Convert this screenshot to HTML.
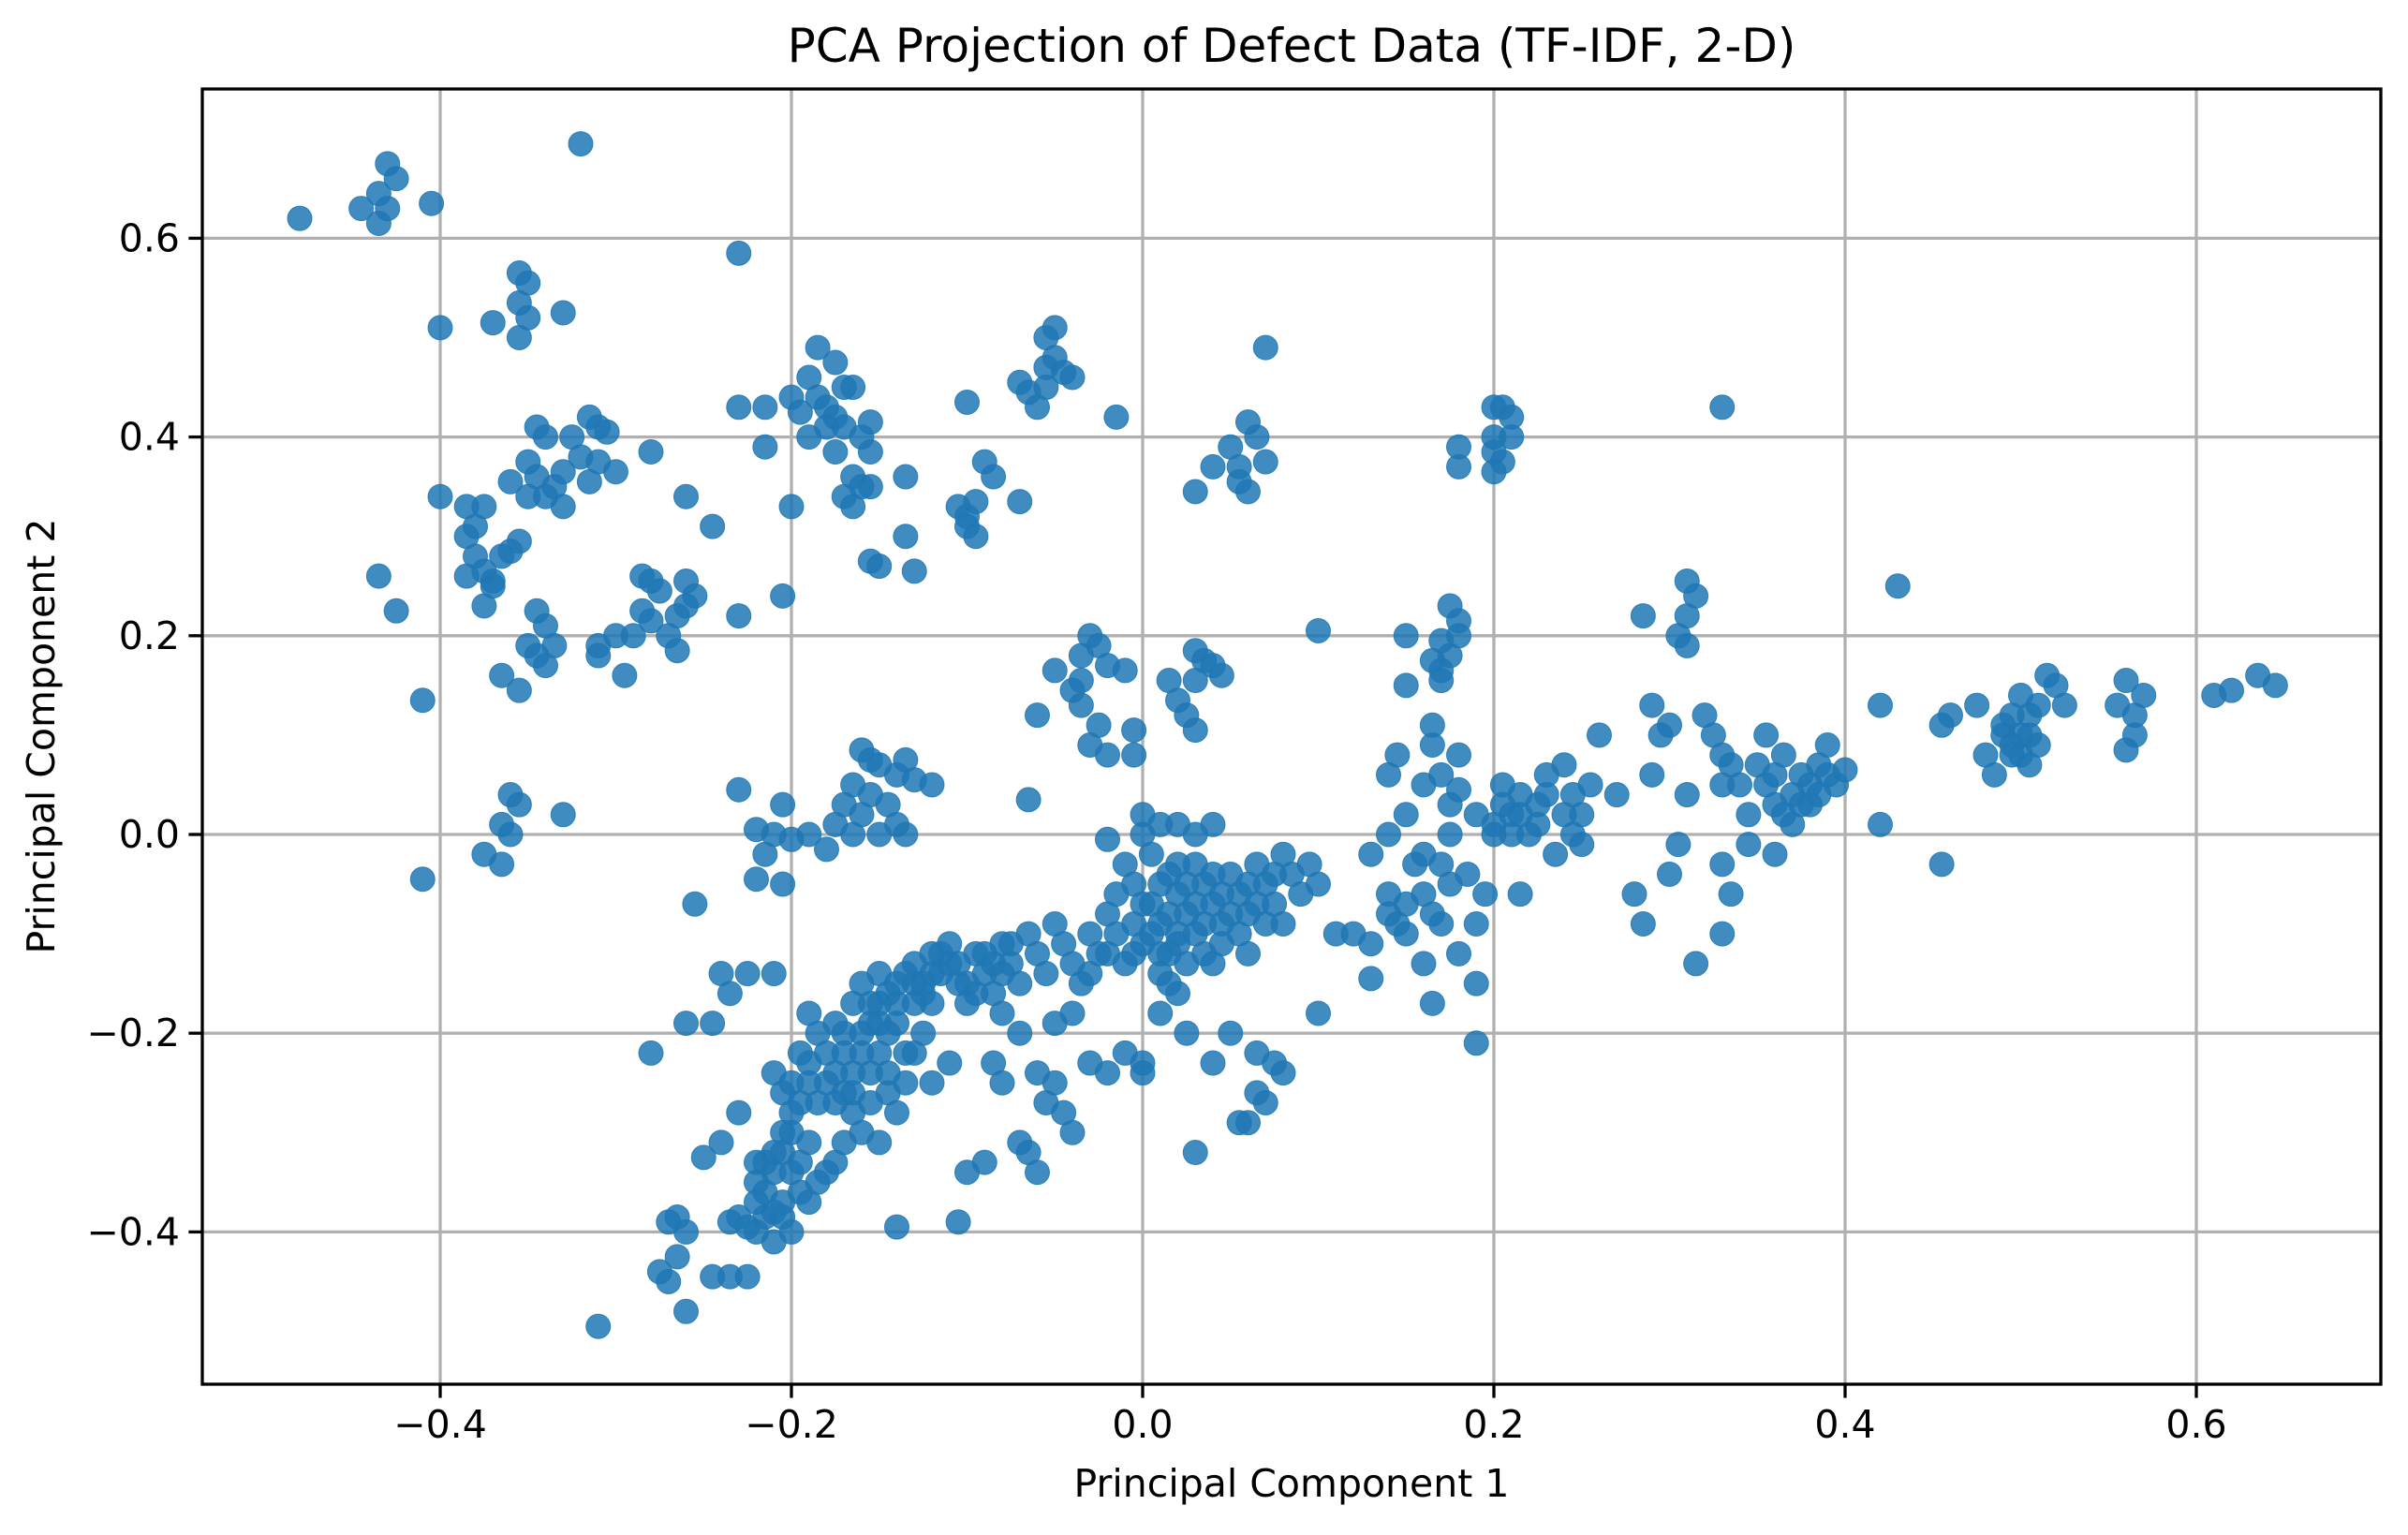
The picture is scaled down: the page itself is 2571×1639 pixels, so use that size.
<!DOCTYPE html>
<html><head><meta charset="utf-8"><style>
html,body{margin:0;padding:0;background:#fff;}
svg text{font-family:"DejaVu Sans","Liberation Sans",sans-serif;fill:#000;}
</style></head>
<body>
<svg id="chart" width="2571" height="1634" viewBox="0 0 2571 1634" xmlns="http://www.w3.org/2000/svg">
<rect x="0" y="0" width="2571" height="1634" fill="#fff"/>
<g id="grid"></g>
<g id="points"></g>
<rect x="216" y="95" width="2326" height="1383" fill="none" stroke="#000" stroke-width="3.3"/>
<g id="ticks"></g>
<text x="1379" y="66" font-size="50" text-anchor="middle">PCA Projection of Defect Data (TF-IDF, 2-D)</text>
<text x="1379" y="1598" font-size="41" text-anchor="middle">Principal Component 1</text>
<text x="0" y="0" font-size="41" text-anchor="middle" transform="translate(58,786) rotate(-90)">Principal Component 2</text>
</svg>
<script>
const xTicks = [-0.4,-0.2,0.0,0.2,0.4,0.6];
const yTicks = [-0.4,-0.2,0.0,0.2,0.4,0.6];
const xTickLabels = ["\u22120.4","\u22120.2","0.0","0.2","0.4","0.6"];
const yTickLabels = ["\u22120.4","\u22120.2","0.0","0.2","0.4","0.6"];
const ptsX = [];
const ptsY = [];
const raw = [
[-0.48,0.62],[-0.445,0.63],[-0.43,0.675],[-0.435,0.645],[-0.425,0.66],[-0.43,0.63],[-0.435,0.615],[-0.405,0.635],[-0.32,0.695],[-0.23,0.585],[-0.40,0.51],[-0.355,0.565],[-0.35,0.555],[-0.355,0.535],[-0.35,0.52],[-0.355,0.50],[-0.37,0.515],[-0.33,0.525],
[-0.4,0.34],[-0.385,0.33],[-0.375,0.33],[-0.38,0.31],[-0.36,0.355],[-0.345,0.41],[-0.34,0.4],[-0.35,0.375],[-0.345,0.36],[-0.335,0.35],[-0.34,0.34],[-0.35,0.34],[-0.33,0.365],[-0.325,0.4],[-0.32,0.38],[-0.315,0.42],[-0.31,0.41],[-0.305,0.405],[-0.31,0.375],[-0.315,0.355],[-0.33,0.33],[-0.3,0.365],[-0.28,0.385],[-0.26,0.34],[-0.245,0.31],[-0.23,0.43],[-0.215,0.43],[-0.215,0.39],
[-0.385,0.3],[-0.38,0.28],[-0.385,0.26],[-0.375,0.265],[-0.37,0.255],[-0.365,0.28],[-0.37,0.25],[-0.375,0.23],[-0.355,0.295],[-0.36,0.285],[-0.435,0.26],[-0.425,0.225],[-0.345,0.225],[-0.34,0.21],[-0.345,0.18],[-0.35,0.19],[-0.34,0.17],[-0.335,0.19],[-0.355,0.145],[-0.365,0.16],[-0.31,0.19],[-0.31,0.18],[-0.3,0.2],[-0.295,0.16],[-0.29,0.2],[-0.285,0.225],[-0.285,0.26],[-0.28,0.255],[-0.275,0.245],[-0.28,0.215],[-0.27,0.2],[-0.265,0.185],[-0.265,0.22],[-0.26,0.255],[-0.255,0.24],[-0.26,0.23],[-0.23,0.22],[-0.205,0.24],[-0.41,0.135],
[-0.36,0.04],[-0.355,0.03],[-0.365,0.01],[-0.36,0.0],[-0.375,-0.02],[-0.365,-0.03],[-0.33,0.02],[-0.41,-0.045],[-0.255,-0.07],[-0.23,0.045],
[-0.185,0.49],[-0.19,0.46],[-0.175,0.475],[-0.2,0.44],[-0.195,0.425],[-0.185,0.44],[-0.18,0.43],[-0.175,0.42],[-0.17,0.45],[-0.165,0.45],[-0.17,0.41],[-0.18,0.41],[-0.19,0.4],[-0.175,0.385],[-0.155,0.415],[-0.155,0.385],[-0.16,0.4],[-0.165,0.36],[-0.17,0.34],[-0.16,0.35],[-0.155,0.35],[-0.165,0.33],[-0.155,0.275],[-0.15,0.27],[-0.135,0.36],[-0.135,0.3],[-0.13,0.265],[-0.2,0.33],[-0.1,0.435],[-0.105,0.33],[-0.1,0.32],[-0.095,0.335],[-0.1,0.31],[-0.095,0.3],[-0.09,0.375],[-0.085,0.36],[-0.07,0.335],[-0.07,0.455],[-0.065,0.445],[-0.06,0.43],[-0.055,0.5],[-0.05,0.51],[-0.055,0.47],[-0.05,0.48],[-0.045,0.465],[-0.04,0.46],[-0.055,0.45],[-0.015,0.42],[0.07,0.49],
[0.05,0.39],[0.055,0.37],[0.06,0.415],[0.065,0.4],[0.07,0.375],[0.055,0.355],[0.06,0.345],[0.04,0.37],[0.03,0.345],
[0.2,0.43],[0.205,0.43],[0.21,0.42],[0.2,0.4],[0.21,0.4],[0.2,0.385],[0.205,0.375],[0.2,0.365],[0.18,0.39],[0.18,0.37],[0.33,0.43],
[0.175,0.23],[0.18,0.215],[0.18,0.2],[0.17,0.195],[0.175,0.18],[0.165,0.175],[0.17,0.165],[0.17,0.155],[0.15,0.2],[0.15,0.15],[0.1,0.205],[0.31,0.255],[0.315,0.24],[0.31,0.22],[0.305,0.2],[0.31,0.19],[0.285,0.22],[0.43,0.25],
[-0.03,0.2],[-0.025,0.19],[-0.035,0.18],[-0.02,0.17],[-0.01,0.165],[-0.035,0.155],[-0.04,0.145],[-0.05,0.165],[-0.06,0.12],[-0.035,0.13],[-0.025,0.11],[-0.03,0.09],[-0.02,0.08],[0.03,0.185],[0.035,0.175],[0.04,0.17],[0.045,0.16],[0.03,0.155],[0.015,0.155],[0.02,0.135],[0.025,0.12],[0.03,0.105],[-0.005,0.105],[-0.005,0.08],
[-0.16,0.085],[-0.155,0.075],[-0.15,0.07],[-0.14,0.06],[-0.135,0.075],[-0.13,0.055],[-0.12,0.05],[-0.165,0.05],[-0.155,0.04],[-0.16,0.02],[-0.17,0.03],[-0.175,0.01],[-0.165,0.0],[-0.145,0.03],[-0.14,0.01],[-0.135,0.0],[-0.15,0.0],[-0.18,-0.015],[-0.19,0.0],[-0.205,0.03],[-0.21,0.0],[-0.2,-0.005],[-0.22,0.005],[-0.215,-0.02],[-0.205,-0.05],[-0.22,-0.045],[-0.065,0.035],[-0.02,-0.005],
[-0.31,-0.495],[-0.26,-0.48],[-0.27,-0.45],[-0.275,-0.44],[-0.265,-0.425],[-0.27,-0.39],[-0.265,-0.385],[-0.26,-0.4],[-0.245,-0.445],[-0.235,-0.445],[-0.225,-0.445],[-0.235,-0.39],[-0.23,-0.385],[-0.225,-0.395],[-0.22,-0.4],[-0.215,-0.385],[-0.21,-0.41],[-0.2,-0.4],[-0.205,-0.385],[-0.19,-0.37],[-0.28,-0.22],[-0.25,-0.325],[-0.24,-0.31],[-0.23,-0.28],[-0.22,-0.33],[-0.22,-0.35],[-0.215,-0.36],[-0.22,-0.37],[-0.21,-0.32],[-0.205,-0.3],[-0.2,-0.34],[-0.195,-0.33],[-0.19,-0.31],[-0.185,-0.35],[-0.18,-0.34],[-0.175,-0.33],[-0.17,-0.31],[-0.2,-0.28],[-0.21,-0.24],[-0.205,-0.26],[-0.2,-0.25],[-0.195,-0.22],[-0.19,-0.18],[-0.185,-0.2],[-0.18,-0.22],[-0.175,-0.24],[-0.17,-0.26],[-0.165,-0.28],[-0.16,-0.2],[-0.155,-0.24],[-0.15,-0.22],[-0.145,-0.26],[-0.14,-0.28],[-0.135,-0.25],[-0.16,-0.3],[-0.15,-0.31],[-0.14,-0.19],[-0.135,-0.22],[-0.13,-0.17],[-0.125,-0.2],[-0.12,-0.25],[-0.11,-0.23],[-0.24,-0.14],[-0.235,-0.16],[-0.225,-0.14],[-0.26,-0.19],[-0.245,-0.19],[-0.21,-0.14],[-0.175,-0.19],[-0.165,-0.17],[-0.16,-0.15],[-0.155,-0.17],[-0.15,-0.19],[-0.14,-0.15],[-0.135,-0.14],[-0.13,-0.13],[-0.125,-0.15],[-0.12,-0.12],[-0.115,-0.14],[-0.11,-0.11],[-0.105,-0.13],[-0.1,-0.15],[-0.095,-0.12],[-0.09,-0.14],[-0.085,-0.16],[-0.08,-0.11],[-0.075,-0.13],[-0.07,-0.15],[-0.065,-0.1],[-0.06,-0.12],[-0.055,-0.14],[-0.05,-0.09],[-0.045,-0.11],[-0.04,-0.13],[-0.035,-0.15],[-0.03,-0.1],[-0.025,-0.12],[-0.02,-0.08],[-0.015,-0.1],[-0.01,-0.13],[-0.005,-0.09],[0.0,-0.11],[0.005,-0.07],[0.01,-0.09],[0.015,-0.12],[0.02,-0.06],[0.025,-0.08],[0.03,-0.1],[0.035,-0.05],[0.04,-0.07],[0.045,-0.09],[0.05,-0.04],[0.055,-0.06],[0.06,-0.08],[0.065,-0.03],[0.07,-0.05],[0.075,-0.07],[0.08,-0.02],[0.085,-0.04],[0.09,-0.06],[0.095,-0.03],[0.1,-0.05],[-0.01,-0.03],[0.0,0.0],[0.005,-0.02],[0.01,0.01],[0.02,0.01],[0.03,0.0],[0.04,0.01],[0.03,-0.03],[0.015,-0.04],[-0.005,-0.05],[-0.015,-0.06],[0.0,0.02],[-0.1,-0.34],[-0.09,-0.33],[-0.085,-0.23],[-0.08,-0.25],[-0.07,-0.31],[-0.065,-0.32],[-0.06,-0.34],[-0.06,-0.24],[-0.055,-0.27],[-0.05,-0.25],[-0.045,-0.28],[-0.04,-0.3],[-0.05,-0.19],[-0.04,-0.18],[-0.03,-0.23],[-0.02,-0.24],[-0.01,-0.22],[0.0,-0.23],[0.0,-0.24],[0.01,-0.18],[0.02,-0.16],[0.025,-0.2],[0.03,-0.32],[0.04,-0.23],[0.05,-0.2],[0.055,-0.29],[0.06,-0.29],[0.065,-0.22],[0.065,-0.26],[0.07,-0.27],[0.075,-0.23],[0.08,-0.24],[-0.14,-0.395],[-0.105,-0.39],[-0.19,-0.23],[-0.17,-0.2],[-0.15,-0.14],[-0.12,-0.17],[-0.1,-0.17],[-0.08,-0.18],[-0.07,-0.2],[0.01,-0.14],[0.04,-0.13],[0.06,-0.12],[0.02,-0.1],[0.08,-0.09],[0.1,-0.18],[0.11,-0.1],[0.12,-0.1],[0.13,-0.11],[0.13,-0.145],[0.14,-0.08],[0.15,-0.1],[0.16,-0.13],[0.165,-0.17],[0.17,-0.09],[0.18,-0.12],[0.19,-0.15],[0.19,-0.21],[0.19,-0.09],
[0.13,-0.02],[0.14,0.0],[0.14,0.06],[0.145,0.08],[0.15,0.02],[0.155,-0.03],[0.16,0.05],[0.165,0.09],[0.165,0.11],[0.17,0.06],[0.175,0.03],[0.175,0.0],[0.18,0.08],[0.18,0.045],[0.185,-0.04],[0.19,0.02],[0.195,-0.06],[0.2,0.0],[0.205,0.05],[0.21,0.02],[0.215,0.04],[0.22,0.0],[0.225,0.03],[0.23,0.06],[0.235,-0.02],[0.24,0.07],[0.245,0.04],[0.25,0.02],[0.255,0.05],[0.26,0.1],[0.215,-0.06],[0.25,-0.01],[0.27,0.04],[0.28,-0.06],[0.285,-0.09],[0.29,0.13],[0.29,0.06],[0.295,0.1],[0.3,-0.04],[0.305,-0.01],[0.3,0.11],[0.31,0.04],[0.315,-0.13],[0.32,0.12],[0.325,0.1],[0.33,0.08],[0.33,-0.03],[0.335,-0.06],[0.33,-0.1],[0.34,0.05],[0.345,0.02],[0.35,0.07],[0.355,0.05],[0.355,0.1],[0.36,0.03],[0.365,0.08],[0.37,0.01],[0.375,0.06],[0.38,0.03],[0.385,0.07],[0.39,0.09],[0.395,0.05],[0.4,0.065],[0.345,-0.01],[0.36,-0.02],[0.42,0.13],[0.42,0.01],[0.455,-0.03],[0.455,0.11],[0.46,0.12],[0.475,0.13],[0.48,0.08],[0.485,0.06],[0.49,0.1],[0.495,0.12],[0.5,0.14],[0.5,0.08],[0.505,0.1],[0.51,0.13],[0.515,0.16],[0.52,0.15],[0.525,0.13],[0.505,0.07],[0.495,0.09],[0.555,0.13],[0.56,0.085],[0.565,0.1],[0.565,0.12],[0.56,0.155],[0.57,0.14],[0.61,0.14],[0.62,0.145],[0.635,0.16],[0.645,0.15],
[0.005,-0.1],[0.01,-0.12],[0.015,-0.08],[0.02,-0.11],[0.025,-0.05],[0.03,-0.07],[0.035,-0.09],[0.04,-0.04],[0.045,-0.06],[0.01,-0.05],[0.02,-0.03],[0.05,-0.08],[0.055,-0.1],[0.06,-0.05],[0.065,-0.07],[0.025,-0.13],[0.035,-0.12],[0.0,-0.07],[-0.005,-0.12],[0.015,-0.15],[0.045,-0.11],[0.07,-0.09],[0.075,-0.04],[-0.02,-0.12],[-0.03,-0.14],
[-0.11,-0.13],[-0.115,-0.12],[-0.105,-0.15],[-0.12,-0.14],[-0.125,-0.16],[-0.13,-0.15],[-0.09,-0.12],[-0.085,-0.13],[-0.08,-0.14],[-0.075,-0.11],[-0.095,-0.16],[-0.14,-0.17],[-0.145,-0.16],[-0.15,-0.17],[-0.155,-0.19],[-0.145,-0.2],[-0.16,-0.22],[-0.165,-0.24],[-0.17,-0.22],[-0.18,-0.25],[-0.185,-0.27],[-0.19,-0.25],[-0.195,-0.27],[-0.2,-0.3],[-0.205,-0.32],[-0.21,-0.34],[-0.215,-0.33],[-0.195,-0.36],[-0.205,-0.37],[-0.21,-0.38],[-0.175,-0.27],[-0.165,-0.26],[-0.155,-0.27],[-0.145,-0.24],[-0.13,-0.22],
[0.2,0.01],[0.205,0.03],[0.21,0.0],[0.215,0.02],[0.225,0.01],[0.23,0.04],[0.24,0.02],[0.245,0.0],[0.36,0.06],[0.37,0.04],[0.375,0.03],[0.38,0.05],[0.385,0.04],[0.39,0.06],[0.365,0.02],[0.33,0.05],[0.335,0.07],[0.49,0.11],[0.5,0.1],[0.505,0.12],[0.495,0.08],[0.51,0.09],
[0.14,-0.06],[0.145,-0.09],[0.15,-0.07],[0.16,-0.06],[0.165,-0.08],[0.17,-0.03],[0.175,-0.05],[0.16,-0.02]
];
raw.forEach(p=>{ptsX.push(p[0]);ptsY.push(p[1]);});

const L=216,R=2542,T=95,B=1478;
function sx(v){return 1220 + v*1875;}
function sy(v){return 891 - v*1061;}
const NS="http://www.w3.org/2000/svg";
function mk(tag,attrs,parent){const e=document.createElementNS(NS,tag);for(const k in attrs)e.setAttribute(k,attrs[k]);parent.appendChild(e);return e;}
const grid=document.getElementById('grid'),ticks=document.getElementById('ticks'),pts=document.getElementById('points');
xTicks.forEach((v,i)=>{
  const x=sx(v);
  const g=mk('line',{x1:x,x2:x,y1:T,y2:B,stroke:'#b0b0b0','stroke-width':3.3},grid);
  
  
  const t=mk('line',{x1:x,x2:x,y1:B,y2:B+14.6,stroke:'#000','stroke-width':3.3},ticks);
  
  
  const lb=mk('text',{x:x,y:B+57,'font-size':41,'text-anchor':'middle'},ticks);
  lb.textContent=xTickLabels[i];
  
  
});
yTicks.forEach((v,i)=>{
  const y=sy(v);
  const g=mk('line',{x1:L,x2:R,y1:y,y2:y,stroke:'#b0b0b0','stroke-width':3.3},grid);
  
  
  const t=mk('line',{x1:L-14.6,x2:L,y1:y,y2:y,stroke:'#000','stroke-width':3.3},ticks);
  
  
  const lb=mk('text',{x:L-24,y:y+14,'font-size':41,'text-anchor':'end'},ticks);
  lb.textContent=yTickLabels[i];
  
  
});
ptsX.forEach((xv,i)=>{
  const c=mk('circle',{cx:sx(xv),cy:sy(ptsY[i]),r:13,fill:'#1f77b4','fill-opacity':0.85,stroke:'#1f77b4','stroke-opacity':0.85,'stroke-width':1},pts);
  
  
});
</script>
</body></html>
